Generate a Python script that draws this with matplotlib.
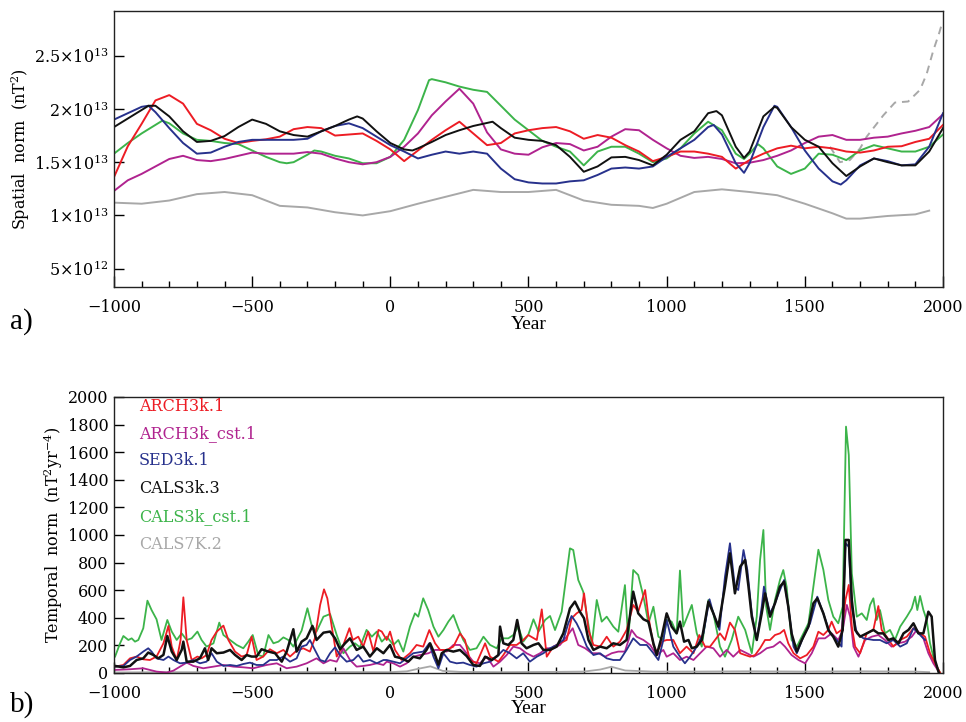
import matplotlib
matplotlib.use("Agg")
import matplotlib.pyplot as plt
from matplotlib.ticker import MultipleLocator

plt.rcParams['font.family'] = ['DejaVu Serif']
plt.rcParams['mathtext.fontset'] = 'dejavuserif'

# ---- colours of the field models ----
C_ARCH = '#ed1c24'
C_ARCH_CST = '#b0238f'
C_SED = '#27318c'
C_CALS3 = '#111111'
C_CALS3_CST = '#3cb44a'
C_CALS7 = '#a8a8a8'

SCALE = 1e13

# ---- panel a: spatial norm (units of 1e13 nT^2) ----
grid50 = list(range(-1000, 2001, 50))

arch_sp = [1.36, 1.65, 1.86, 2.08, 2.13, 2.05, 1.86, 1.80, 1.72, 1.68, 1.70, 1.715,
           1.74, 1.81, 1.83, 1.82, 1.75, 1.76, 1.77, 1.70, 1.62, 1.51, 1.61, 1.71,
           1.80, 1.88, 1.77, 1.66, 1.68, 1.77, 1.80, 1.82, 1.83, 1.79, 1.72, 1.755,
           1.73, 1.66, 1.60, 1.51, 1.55, 1.60, 1.60, 1.58, 1.55, 1.44, 1.52, 1.58,
           1.63, 1.655, 1.63, 1.645, 1.63, 1.60, 1.59, 1.61, 1.645, 1.65, 1.69, 1.72,
           1.85]

arch_cst_sp = [1.23, 1.33, 1.39, 1.46, 1.53, 1.56, 1.52, 1.51, 1.53, 1.56, 1.59, 1.58,
               1.58, 1.58, 1.595, 1.58, 1.535, 1.50, 1.48, 1.50, 1.55, 1.645, 1.77, 1.94,
               2.07, 2.19, 2.05, 1.78, 1.62, 1.58, 1.57, 1.64, 1.68, 1.67, 1.61, 1.645,
               1.74, 1.81, 1.80, 1.71, 1.63, 1.56, 1.54, 1.55, 1.53, 1.49, 1.495, 1.52,
               1.56, 1.61, 1.68, 1.74, 1.755, 1.71, 1.71, 1.73, 1.74, 1.77, 1.795, 1.83,
               1.95]

sed_sp_yr = [-1000, -950, -900, -875, -850, -800, -750, -700, -650, -600, -550, -500,
             -450, -400, -350, -300, -250, -200, -150, -100, -50, 0, 50, 100, 150, 200,
             250, 300, 350, 400, 450, 500, 550, 600, 650, 700, 750, 800, 850, 900, 950,
             1000, 1050, 1100, 1150, 1170, 1200, 1250, 1280, 1300, 1350, 1390, 1400,
             1450, 1500, 1550, 1600, 1630, 1650, 1700, 1750, 1800, 1850, 1900, 1950, 2000]
sed_sp = [1.90, 1.96, 2.02, 2.03, 1.97, 1.82, 1.68, 1.58, 1.59, 1.645, 1.69, 1.71,
          1.71, 1.71, 1.71, 1.72, 1.79, 1.84, 1.865, 1.82, 1.74, 1.66, 1.60, 1.535, 1.57, 1.60,
          1.58, 1.60, 1.58, 1.44, 1.34, 1.31, 1.30, 1.30, 1.32, 1.33, 1.38, 1.44, 1.45, 1.44, 1.46,
          1.55, 1.63, 1.71, 1.83, 1.85, 1.76, 1.49, 1.40, 1.49, 1.83, 2.03, 2.02,
          1.83, 1.61, 1.44, 1.32, 1.29, 1.33, 1.47, 1.535, 1.51, 1.47, 1.48, 1.645, 1.96]

cals3_sp_yr = [-1000, -950, -900, -875, -850, -800, -750, -700, -650, -600, -550, -500,
               -450, -400, -350, -300, -250, -200, -150, -120, -100, -50, 0, 50, 80, 100,
               150, 200, 250, 300, 370, 400, 450, 500, 550, 600, 650, 700, 750, 800, 850,
               900, 950, 1000, 1050, 1100, 1150, 1180, 1200, 1250, 1280, 1300, 1350, 1390,
               1400, 1450, 1500, 1550, 1600, 1650, 1700, 1750, 1800, 1850, 1900, 1950, 2000]
cals3_sp = [1.83, 1.91, 1.99, 2.03, 2.03, 1.93, 1.79, 1.69, 1.70, 1.745, 1.83, 1.90,
            1.86, 1.79, 1.755, 1.74, 1.79, 1.84, 1.90, 1.93, 1.91, 1.79, 1.68, 1.62, 1.61, 1.63,
            1.69, 1.755, 1.80, 1.84, 1.88, 1.82, 1.73, 1.71, 1.70, 1.66, 1.55, 1.41, 1.46, 1.545, 1.55,
            1.52, 1.47, 1.57, 1.71, 1.79, 1.96, 1.98, 1.94, 1.645, 1.54, 1.60, 1.93, 2.02,
            2.01, 1.83, 1.71, 1.645, 1.49, 1.37, 1.46, 1.535, 1.50, 1.47, 1.47, 1.60, 1.82]

cals3_cst_sp_yr = [-1000, -950, -900, -850, -825, -800, -750, -700, -650, -600, -550, -500,
                   -450, -400, -375, -350, -300, -275, -250, -200, -150, -100, -50, 0, 50,
                   100, 140, 150, 200, 250, 300, 350, 400, 450, 500, 550, 600, 650, 700, 750,
                   800, 850, 900, 950, 1000, 1050, 1100, 1150, 1200, 1250, 1280, 1300, 1330,
                   1350, 1400, 1450, 1500, 1550, 1600, 1650, 1700, 1750, 1800, 1850, 1900,
                   1950, 2000]
cals3_cst_sp = [1.58, 1.68, 1.77, 1.85, 1.89, 1.865, 1.77, 1.71, 1.70, 1.68, 1.67, 1.61,
                1.55, 1.50, 1.49, 1.50, 1.57, 1.61, 1.60, 1.56, 1.535, 1.49, 1.49, 1.55, 1.71,
                1.99, 2.27, 2.28, 2.25, 2.21, 2.18, 2.16, 2.03, 1.90, 1.80, 1.70, 1.645, 1.60, 1.47, 1.60,
                1.645, 1.645, 1.58, 1.50, 1.535, 1.63, 1.77, 1.88, 1.80, 1.58, 1.53, 1.58, 1.67,
                1.63, 1.46, 1.39, 1.44, 1.58, 1.57, 1.52, 1.61, 1.66, 1.63, 1.60, 1.60,
                1.645, 1.76]

cals7_sp_yr = [-1000, -900, -800, -700, -600, -500, -400, -300, -200, -100, 0, 100, 200,
               300, 400, 500, 600, 700, 800, 900, 950, 1000, 1100, 1200, 1300, 1400, 1500,
               1600, 1650, 1700, 1800, 1900, 1950]
cals7_sp = [1.12, 1.11, 1.14, 1.20, 1.22, 1.19, 1.09, 1.075, 1.03, 1.00, 1.04, 1.11, 1.175,
            1.24, 1.22, 1.22, 1.24, 1.14, 1.10, 1.09, 1.07, 1.11, 1.22, 1.245, 1.22, 1.19, 1.11,
            1.02, 0.97, 0.97, 0.995, 1.01, 1.045]

# historical model, dashed
hist_sp_yr = [1591, 1627, 1663, 1700, 1724, 1784, 1826, 1874, 1917, 1941, 1965, 1987, 1996]
hist_sp = [1.645, 1.50, 1.52, 1.63, 1.74, 1.94, 2.06, 2.07, 2.18, 2.33, 2.55, 2.72, 2.80]

sp_ticks = [0.5, 1.0, 1.5, 2.0, 2.5]
sp_ticklabels = [r'$5{\times}10^{12}$', r'$1{\times}10^{13}$', r'$1.5{\times}10^{13}$',
                 r'$2{\times}10^{13}$', r'$2.5{\times}10^{13}$']

# ---- panel b: temporal norm (nT^2 yr^-4) ----
arch_tn_yr = [-996, -966, -942, -918, -894, -870, -846, -821, -803, -791, -773, -759, -749,
              -737, -719, -698, -683, -665, -647, -628, -604, -586, -562, -538, -520, -502,
              -484, -460, -436, -411, -387, -363, -339, -315, -291, -273, -254, -240, -228,
              -212, -194, -170, -148, -136, -116, -98, -80, -61, -43, -31, -13, -1, 17, 41,
              71, 95, 119, 141, 162, 180, 204, 228, 252, 270, 288, 312, 343, 361, 391, 409,
              433, 457, 481, 499, 530, 548, 566, 590, 614, 638, 656, 674, 692, 701, 717,
              735, 759, 783, 807, 831, 855, 879, 897, 922, 934, 952, 965, 985, 1000, 1024,
              1048, 1072, 1097, 1118, 1139, 1157, 1175, 1193, 1211, 1229, 1247, 1266, 1284,
              1302, 1320, 1338, 1356, 1374, 1392, 1410, 1425, 1440, 1459, 1483, 1507, 1531,
              1549, 1567, 1585, 1597, 1615, 1633, 1647, 1659, 1670, 1682, 1700, 1724, 1748,
              1766, 1778, 1796, 1820, 1845, 1869, 1893, 1917, 1935, 1953, 1971, 1990]
arch_tn = [46, 58, 106, 119, 99, 94, 119, 215, 341, 191, 94, 239, 548,
           239, 94, 119, 106, 130, 239, 300, 343, 239, 155, 119, 130, 263,
           94, 119, 172, 143, 167, 119, 162, 179, 155, 251, 493, 606, 541,
           336, 119, 203, 324, 239, 263, 191, 300, 155, 312, 300, 239, 300, 167, 94,
           143, 203, 191, 311, 215, 167, 167, 191, 287, 239, 94, 70, 215, 118, 82, 130,
           203, 203, 239, 275, 239, 461, 118, 191, 215, 239, 396, 432, 456, 577, 311,
           203, 191, 263, 191, 227, 311, 493, 444, 601, 408, 203, 150, 230, 239, 239,
           143, 191, 143, 275, 191, 191, 239, 287, 239, 365, 312, 143, 130,
           118, 130, 179, 239, 239, 275, 287, 312, 215, 143, 106, 130, 191,
           299, 275, 312, 372, 287, 312, 529, 638, 336, 191, 143, 287, 312,
           485, 312, 263, 191, 239, 263, 324, 287, 263, 143, 70, 0]

arch_cst_tn_yr = [-996, -942, -894, -846, -809, -785, -761, -737, -713, -677, -640, -604,
                  -568, -532, -496, -448, -411, -375, -339, -303, -267, -242, -218, -194,
                  -170, -146, -122, -98, -74, -49, -25, -13, 11, 35, 59, 83, 107, 138, 162,
                  186, 204, 228, 252, 276, 300, 324, 349, 373, 397, 421, 445, 469, 493, 518,
                  542, 566, 590, 614, 638, 660, 680, 705, 729, 753, 777, 801, 825, 849, 873,
                  891, 916, 940, 964, 988, 1000, 1024, 1048, 1072, 1097, 1121, 1145, 1169,
                  1193, 1217, 1241, 1266, 1290, 1314, 1338, 1362, 1386, 1410, 1428, 1452,
                  1477, 1501, 1525, 1549, 1573, 1597, 1621, 1637, 1652, 1664, 1676, 1694,
                  1718, 1742, 1766, 1790, 1814, 1839, 1863, 1887, 1905, 1929, 1947, 1965, 1988]
arch_cst_tn = [22, 27, 34, 10, 3, 17, 46, 75, 51, 34, 46, 58,
               46, 41, 34, 58, 70, 34, 46, 70, 106, 70, 94, 82,
               179, 94, 46, 51, 58, 70, 58, 82, 70, 46, 70, 118, 130, 143, 167,
               167, 155, 203, 203, 143, 82, 70, 118, 46, 82, 130, 191, 179, 143, 118,
               143, 179, 179, 203, 263, 324, 203, 179, 143, 143, 118, 143, 155, 155, 311,
               263, 239, 203, 130, 167, 118, 143, 94, 118, 94, 143, 191, 179,
               118, 167, 118, 167, 143, 118, 143, 179, 191, 227, 191, 130,
               94, 70, 143, 251, 251, 287, 239, 312, 493, 408, 191, 118,
               239, 263, 275, 239, 191, 215, 227, 263, 312, 251, 143, 70, 0]

sed_tn_yr = [-996, -966, -942, -918, -894, -876, -864, -846, -821, -803, -785, -761, -737,
             -713, -689, -665, -647, -628, -604, -580, -556, -532, -508, -484, -460, -436,
             -411, -387, -363, -339, -321, -303, -291, -273, -254, -236, -218, -200, -182,
             -158, -134, -116, -98, -74, -49, -25, -13, 11, 35, 59, 83, 119, 141, 156, 174,
             192, 216, 240, 264, 288, 312, 337, 361, 385, 409, 433, 457, 481, 505, 530, 554,
             578, 602, 626, 644, 656, 674, 692, 711, 735, 759, 783, 807, 831, 855, 879, 904,
             928, 952, 970, 988, 1000, 1024, 1048, 1066, 1085, 1109, 1133, 1155, 1169, 1191,
             1211, 1229, 1247, 1259, 1278, 1292, 1308, 1326, 1344, 1352, 1374, 1392, 1410,
             1425, 1440, 1459, 1471, 1495, 1519, 1545, 1567, 1591, 1615, 1633, 1647, 1659,
             1670, 1688, 1712, 1748, 1772, 1796, 1820, 1845, 1869, 1893, 1917, 1935]
sed_tn = [46, 51, 94, 119, 155, 179, 155, 106, 94, 119, 94, 70, 75,
          94, 70, 82, 143, 82, 51, 58, 51, 65, 75, 58, 58, 94,
          94, 119, 82, 106, 191, 203, 239, 167, 94, 82, 143, 186, 130,
          82, 94, 130, 82, 94, 70, 94, 94, 82, 70, 106, 143, 155, 215, 118, 34,
          143, 82, 70, 75, 58, 46, 70, 82, 118, 167, 143, 106, 143, 82, 118, 143,
          179, 203, 239, 360, 413, 360, 287, 191, 130, 143, 106, 94, 94, 167, 251, 203,
          203, 143, 94, 239, 384, 191, 118, 70, 118, 191, 287, 534, 432, 312,
          698, 940, 626, 601, 891, 746, 432, 239, 481, 626, 432, 505, 601,
          674, 481, 191, 143, 263, 360, 553, 432, 287, 239, 191, 940, 915,
          481, 287, 251, 239, 239, 215, 239, 191, 215, 324, 275, 239]

cals3_tn_yr = [-996, -966, -942, -918, -894, -876, -858, -840, -821, -807, -791, -773, -755,
               -749, -737, -713, -689, -671, -659, -647, -628, -604, -580, -562, -538, -520,
               -502, -484, -466, -441, -417, -393, -375, -351, -339, -321, -303, -282, -267,
               -242, -218, -200, -182, -164, -146, -122, -98, -74, -49, -25, -1, 17, 41, 65,
               83, 107, 131, 144, 162, 174, 186, 204, 228, 252, 276, 300, 324, 343, 367, 391,
               397, 409, 427, 445, 459, 475, 493, 518, 536, 554, 578, 602, 626, 650, 668, 686,
               701, 717, 735, 759, 783, 807, 831, 855, 879, 897, 916, 934, 952, 964, 982,
               1000, 1018, 1036, 1048, 1063, 1079, 1091, 1109, 1127, 1151, 1169, 1187, 1211,
               1229, 1247, 1266, 1284, 1296, 1308, 1326, 1344, 1356, 1374, 1392, 1410, 1425,
               1440, 1452, 1471, 1489, 1513, 1531, 1545, 1567, 1585, 1603, 1621, 1637, 1647,
               1659, 1670, 1682, 1700, 1724, 1748, 1766, 1784, 1802, 1820, 1839, 1857, 1875,
               1893, 1911, 1929, 1947, 1959, 1971, 1985]
cals3_tn = [51, 41, 51, 94, 106, 148, 131, 106, 131, 268, 155, 94, 167,
            227, 82, 82, 106, 179, 94, 179, 143, 148, 167, 131, 94, 130,
            119, 119, 172, 155, 143, 82, 155, 317, 155, 227, 251, 341, 239,
            292, 300, 251, 172, 215, 251, 167, 191, 119, 179, 143, 203, 118, 106, 82,
            118, 106, 167, 215, 130, 60, 143, 167, 155, 167, 123, 58, 51, 118, 94, 130,
            336, 215, 203, 239, 384, 215, 179, 203, 215, 167, 167, 191, 287, 468, 517, 444,
            396, 239, 167, 191, 179, 215, 203, 239, 589, 432, 389, 372, 215, 130, 263,
            432, 336, 287, 372, 227, 239, 179, 191, 239, 517, 432, 336, 626,
            867, 577, 770, 819, 626, 408, 239, 432, 577, 408, 505, 626, 662,
            481, 287, 155, 239, 336, 505, 541, 432, 312, 263, 191, 312, 964,
            964, 529, 312, 263, 287, 312, 287, 287, 239, 251, 215, 287, 312,
            360, 287, 287, 444, 408, 94, 0]

cals3_cst_tn_yr = [-996, -978, -966, -948, -936, -924, -912, -894, -879, -864, -846, -828,
                   -807, -791, -773, -755, -737, -719, -698, -683, -665, -640, -619, -604,
                   -580, -556, -532, -514, -498, -478, -460, -441, -423, -405, -387, -369,
                   -351, -321, -300, -285, -267, -242, -218, -194, -170, -146, -128, -110,
                   -86, -67, -49, -31, -13, 11, 29, 47, 71, 89, 101, 119, 137, 156, 174, 192,
                   210, 228, 246, 264, 288, 312, 337, 361, 385, 403, 427, 445, 463, 481, 499,
                   518, 536, 560, 578, 596, 620, 638, 650, 662, 680, 698, 711, 729, 747, 765,
                   783, 807, 825, 849, 861, 879, 897, 916, 934, 952, 970, 988, 1000, 1018,
                   1036, 1048, 1060, 1079, 1091, 1109, 1127, 1151, 1169, 1193, 1211, 1235,
                   1259, 1284, 1308, 1326, 1338, 1350, 1360, 1374, 1392, 1410, 1422, 1434,
                   1452, 1471, 1495, 1513, 1531, 1549, 1567, 1585, 1603, 1621, 1637, 1649,
                   1659, 1670, 1688, 1706, 1724, 1736, 1748, 1760, 1772, 1790, 1808, 1826,
                   1845, 1869, 1887, 1899, 1907, 1917, 1929, 1941, 1953, 1965, 1977, 1990]
cals3_cst_tn = [119, 215, 268, 239, 251, 227, 239, 324, 524, 456, 389, 239,
                384, 300, 239, 287, 239, 251, 300, 239, 191, 215, 365, 275,
                239, 203, 179, 227, 275, 130, 119, 275, 215, 227, 258, 239,
                191, 307, 469, 348, 300, 408, 427, 275, 143, 191, 215, 186,
                312, 263, 300, 227, 263, 203, 239, 155, 336, 432, 408, 541, 456, 336, 263, 311,
                372, 420, 324, 239, 167, 179, 263, 203, 179, 251, 251, 275, 336, 227, 275,
                389, 299, 384, 413, 311, 444, 722, 903, 891, 674, 589, 420, 203, 529, 372,
                408, 336, 299, 637, 239, 746, 710, 553, 360, 480, 263, 239, 384, 372,
                287, 742, 336, 432, 493, 287, 191, 529, 432, 191, 118, 239,
                408, 312, 143, 408, 819, 1036, 481, 312, 529, 674, 746, 626,
                239, 191, 287, 360, 626, 893, 748, 529, 408, 360, 481, 1785,
                1580, 722, 408, 432, 384, 493, 541, 384, 456, 287, 312, 239,
                336, 408, 468, 553, 456, 558, 456, 384, 215, 118, 46, 0]

cals7_tn_yr = [-1000, -800, -600, -400, -200, 0, 60, 100, 145, 190, 250, 400, 600, 700,
               760, 800, 850, 950, 1100, 1300, 1500, 1700, 1900, 1950]
cals7_tn = [4, 6, 5, 6, 7, 6, 12, 30, 48, 15, 8, 6, 8, 10, 25, 45, 18, 10, 10, 12, 10, 12,
            10, 6]

model_names = ['ARCH3k.1', 'ARCH3k_cst.1', 'SED3k.1', 'CALS3k.3', 'CALS3k_cst.1', 'CALS7K.2']
model_colors = [C_ARCH, C_ARCH_CST, C_SED, C_CALS3, C_CALS3_CST, C_CALS7]

serif_times = ['Liberation Serif']
tick_fs = 11.5


def style_axes(ax):
    ax.set_xlim(-1000, 2000)
    ax.xaxis.set_major_locator(MultipleLocator(500))
    ax.xaxis.set_minor_locator(MultipleLocator(100))
    ax.tick_params(axis='x', which='major', direction='in', length=8, width=1,
                   labelsize=tick_fs, pad=9, top=False)
    ax.tick_params(axis='x', which='minor', direction='in', length=4.5, width=1, top=False)
    ax.tick_params(axis='y', which='major', direction='in', length=7, width=1,
                   labelsize=tick_fs, pad=4, right=False)
    ax.set_xticks([-1000, -500, 0, 500, 1000, 1500, 2000])
    ax.set_xticklabels(['\u22121000', '\u2212500', '0', '500', '1000', '1500', '2000'])
    for sp in ax.spines.values():
        sp.set_linewidth(1.0)
        sp.set_color('#222222')


fig = plt.figure(figsize=(9.66, 7.22), dpi=100)

# ---------------- a) spatial norm ----------------
ax1 = fig.add_axes([0.1180, 0.6025, 0.8582, 0.3823])
lw = 1.4
ax1.plot(cals7_sp_yr, [v * SCALE for v in cals7_sp], color=C_CALS7, lw=lw)
ax1.plot(hist_sp_yr, [v * SCALE for v in hist_sp], color=C_CALS7, lw=lw, ls=(0, (4, 3)))
ax1.plot(cals3_cst_sp_yr, [v * SCALE for v in cals3_cst_sp], color=C_CALS3_CST, lw=lw)
ax1.plot(grid50, [v * SCALE for v in arch_cst_sp], color=C_ARCH_CST, lw=lw)
ax1.plot(grid50, [v * SCALE for v in arch_sp], color=C_ARCH, lw=lw)
ax1.plot(sed_sp_yr, [v * SCALE for v in sed_sp], color=C_SED, lw=lw)
ax1.plot(cals3_sp_yr, [v * SCALE for v in cals3_sp], color=C_CALS3, lw=lw)

style_axes(ax1)
ax1.set_ylim(0.328 * SCALE, 2.92 * SCALE)
ax1.set_yticks([t * SCALE for t in sp_ticks])
ax1.set_yticklabels(sp_ticklabels)
ax1.set_ylabel(r'Spatial  norm  (nT$^2$)', fontsize=tick_fs)
ax1.yaxis.set_label_coords(-0.099, 0.5)
ax1.set_xlabel('Year', family=serif_times, fontsize=14, labelpad=0)
fig.text(0.010, 1 - 322 / 722, 'a)', family=serif_times, fontsize=21, va='center')

# ---------------- b) temporal norm ----------------
ax2 = fig.add_axes([0.1180, 0.0679, 0.8582, 0.3823])
ax2.plot(cals7_tn_yr, cals7_tn, color=C_CALS7, lw=1.3)
ax2.plot(cals3_cst_tn_yr, cals3_cst_tn, color=C_CALS3_CST, lw=1.3)
ax2.plot(arch_cst_tn_yr, arch_cst_tn, color=C_ARCH_CST, lw=1.3)
ax2.plot(arch_tn_yr, arch_tn, color=C_ARCH, lw=1.3)
ax2.plot(sed_tn_yr, sed_tn, color=C_SED, lw=1.3)
ax2.plot(cals3_tn_yr, cals3_tn, color=C_CALS3, lw=1.8)

style_axes(ax2)
ax2.set_ylim(0, 2000)
ax2.set_yticks(range(0, 2001, 200))
ax2.set_ylabel(r'Temporal  norm  (nT$^2$yr$^{-4}$)', fontsize=tick_fs)
ax2.yaxis.set_label_coords(-0.059, 0.5)
ax2.set_xlabel('Year', family=serif_times, fontsize=14, labelpad=-2)
fig.text(0.010, 1 - 705 / 722, 'b)', family=serif_times, fontsize=21, va='center')

# model names stacked in the upper left corner
label_y = [0.967, 0.866, 0.768, 0.667, 0.565, 0.467]
for name, col, yy in zip(model_names, model_colors, label_y):
    ax2.text(0.030, yy, name, color=col, fontsize=tick_fs, va='center', ha='left',
             transform=ax2.transAxes)

fig.savefig('out.png', dpi=100)
